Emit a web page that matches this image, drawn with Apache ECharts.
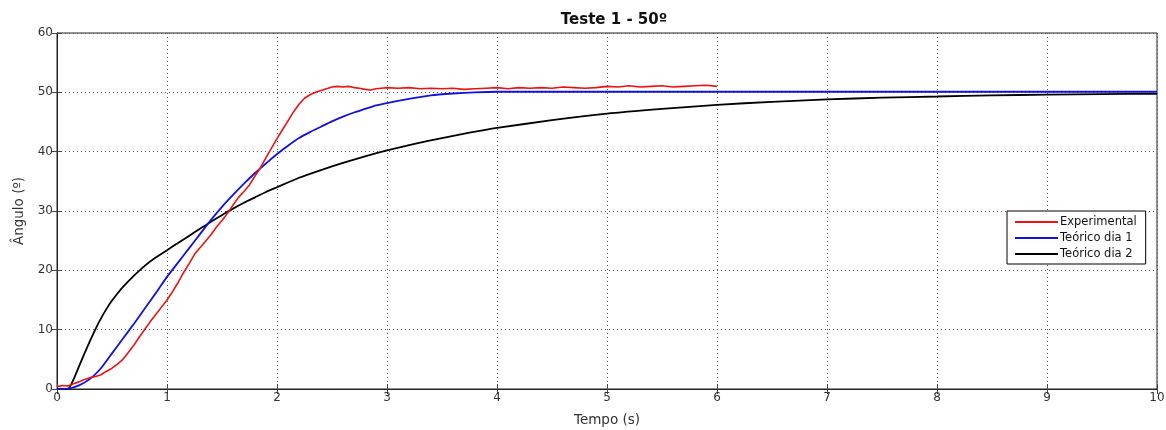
<!DOCTYPE html>
<html>
<head>
<meta charset="utf-8">
<script src="https://cdn.jsdelivr.net/npm/echarts@6/dist/echarts.min.js"></script>
<style>html,body{margin:0;padding:0;background:#fff;}#c{width:1166px;height:430px;}</style>
</head>
<body>
<div id="c"></div>
<script>
var titleText = 'Teste 1 - 50º';
var xName = 'Tempo (s)';
var yName = 'Ângulo (º)';
var seriesNames = ['Experimental', 'Teórico dia 1', 'Teórico dia 2'];

var expT = [0,0.05,0.1,0.15,0.2,0.25,0.3,0.35,0.4,0.45,0.5,0.55,0.6,0.65,0.7,0.75,0.8,0.85,0.9,0.95,1.0,1.05,1.1,1.15,1.2,1.25,1.3,1.35,1.4,1.45,1.5,1.55,1.6,1.65,1.7,1.75,1.8,1.85,1.9,1.95,2.0,2.05,2.1,2.15,2.2,2.25,2.3,2.35,2.4,2.45,2.5,2.55,2.6,2.65,2.7,2.75,2.8,2.85,2.9,2.95,3.0,3.1,3.2,3.3,3.4,3.5,3.6,3.7,3.8,3.9,4.0,4.1,4.2,4.3,4.4,4.5,4.6,4.7,4.8,4.9,5.0,5.1,5.2,5.3,5.4,5.5,5.6,5.7,5.8,5.9,6.0];
var expV = [0.4,0.6,0.5,0.9,1.2,1.6,1.9,2.1,2.4,3.0,3.5,4.2,5.0,6.2,7.4,8.8,10.1,11.4,12.6,13.8,15.0,16.4,17.9,19.6,21.1,22.7,23.8,24.9,26.0,27.3,28.4,29.6,31.0,32.3,33.3,34.4,35.9,37.3,39.0,40.6,42.2,43.7,45.2,46.7,48.0,49.0,49.6,50.0,50.3,50.6,50.9,51.0,50.9,51.0,50.8,50.7,50.5,50.4,50.6,50.7,50.8,50.7,50.8,50.6,50.7,50.6,50.7,50.5,50.6,50.7,50.8,50.6,50.8,50.7,50.8,50.7,50.9,50.8,50.7,50.8,51.0,50.9,51.1,50.9,51.0,51.1,50.9,51.0,51.1,51.2,51.0];

var t1T = [0,0.1,0.2,0.3,0.4,0.5,0.6,0.7,0.8,0.9,1.0,1.1,1.2,1.3,1.4,1.5,1.6,1.7,1.8,1.9,2.0,2.1,2.2,2.3,2.4,2.5,2.6,2.7,2.8,2.9,3.0,3.2,3.4,3.6,3.8,4.0,5.0,6.0,8.0,10.0];
var t1V = [0,0.05,0.6,1.7,3.5,6.0,8.5,11.0,13.6,16.2,18.9,21.3,23.7,26.1,28.5,30.7,32.7,34.6,36.4,38.0,39.6,41.0,42.3,43.3,44.2,45.1,45.9,46.6,47.2,47.8,48.2,48.9,49.5,49.8,50.0,50.1,50.1,50.1,50.1,50.1];

var t2T = [0,0.1,0.15,0.2,0.25,0.3,0.35,0.4,0.45,0.5,0.55,0.6,0.7,0.8,0.9,1.0,1.1,1.2,1.3,1.4,1.5,1.6,1.7,1.8,1.9,2.0,2.2,2.4,2.6,2.8,3.0,3.25,3.5,3.75,4.0,4.5,5.0,5.5,6.0,6.5,7.0,7.5,8.0,8.5,9.0,9.5,10.0];
var t2V = [0,0,1.6,3.8,6.0,8.1,10.1,11.9,13.5,14.9,16.1,17.2,19.1,20.8,22.2,23.4,24.6,25.8,27.0,28.2,29.3,30.4,31.4,32.3,33.2,34.0,35.6,36.9,38.1,39.2,40.2,41.3,42.3,43.2,44.0,45.3,46.4,47.2,47.9,48.4,48.8,49.1,49.3,49.5,49.6,49.7,49.75];

var xTicks = [0,1,2,3,4,5,6,7,8,9,10];
var yTicks = [0,10,20,30,40,50,60];

function pairs(t, v) { return t.map(function (x, i) { return [x, v[i]]; }); }

var font = 'DejaVu Sans, Verdana, sans-serif';
var colors = ['#ee1111', '#1111dd', '#000000'];

var chart = echarts.init(document.getElementById('c'), null, {renderer: 'canvas'});
var gridLine = {show: true, lineStyle: {color: '#555', type: [1, 3], width: 1}};
var tickStyle = {show: true, inside: true, length: 5, lineStyle: {color: '#444'}};
chart.setOption({
  animation: false,
  backgroundColor: '#fff',
  title: {
    text: titleText, left: 609, top: 8, textAlign: 'center',
    textStyle: {fontFamily: font, fontSize: 15, fontWeight: 'bold', color: '#111'}
  },
  legend: {
    orient: 'vertical', left: 1007, top: 211,
    backgroundColor: '#fff', borderColor: '#000', borderWidth: 1,
    padding: [3, 9, 2, 8], itemGap: 0, itemWidth: 43, itemHeight: 2,
    icon: 'rect',
    textStyle: {fontFamily: font, fontSize: 11.5, color: '#111', lineHeight: 16, padding: [0, 0, 0, -3]},
    data: seriesNames
  },
  grid: {left: 57, right: 9, top: 33, bottom: 41, containLabel: false, outerBoundsMode: 'none', show: true, borderColor: '#222', borderWidth: 1, backgroundColor: '#fff'},
  xAxis: [{
    type: 'value', min: 0, max: 10, interval: 1,
    name: xName, nameLocation: 'middle', nameGap: 24,
    nameTextStyle: {fontFamily: font, fontSize: 13.5, color: '#333'},
    axisLine: {show: true, lineStyle: {color: '#222'}},
    axisTick: tickStyle,
    axisLabel: {fontFamily: font, fontSize: 12, color: '#333', margin: 3, formatter: function (v) { return xTicks.indexOf(v) >= 0 ? String(v) : ''; }},
    splitLine: gridLine
  }, {
    type: 'value', min: 0, max: 10, interval: 1, position: 'top',
    axisLine: {show: true, lineStyle: {color: '#222'}},
    axisTick: tickStyle,
    axisLabel: {show: false}, splitLine: {show: false}
  }],
  yAxis: [{
    type: 'value', min: 0, max: 60, interval: 10,
    name: yName, nameLocation: 'middle', nameGap: 29, nameRotate: 90,
    nameTextStyle: {fontFamily: font, fontSize: 13.5, color: '#333'},
    axisLine: {show: true, lineStyle: {color: '#222'}},
    axisTick: tickStyle,
    axisLabel: {fontFamily: font, fontSize: 12, color: '#333', margin: 4, formatter: function (v) { return yTicks.indexOf(v) >= 0 ? String(v) : ''; }},
    splitLine: gridLine
  }, {
    type: 'value', min: 0, max: 60, interval: 10, position: 'right',
    axisLine: {show: true, lineStyle: {color: '#222'}},
    axisTick: tickStyle,
    axisLabel: {show: false}, splitLine: {show: false}
  }],
  series: [
    {name: seriesNames[0], type: 'line', data: pairs(expT, expV), showSymbol: false, symbol: 'none', lineStyle: {color: colors[0], width: 1.6}, itemStyle: {color: colors[0]}, z: 3},
    {name: seriesNames[1], type: 'line', data: pairs(t1T, t1V), smooth: 0.2, showSymbol: false, symbol: 'none', lineStyle: {color: colors[1], width: 1.8}, itemStyle: {color: colors[1]}, z: 2},
    {name: seriesNames[2], type: 'line', data: pairs(t2T, t2V), smooth: 0.2, showSymbol: false, symbol: 'none', lineStyle: {color: colors[2], width: 1.8}, itemStyle: {color: colors[2]}, z: 1}
  ]
});
</script>
</body>
</html>
